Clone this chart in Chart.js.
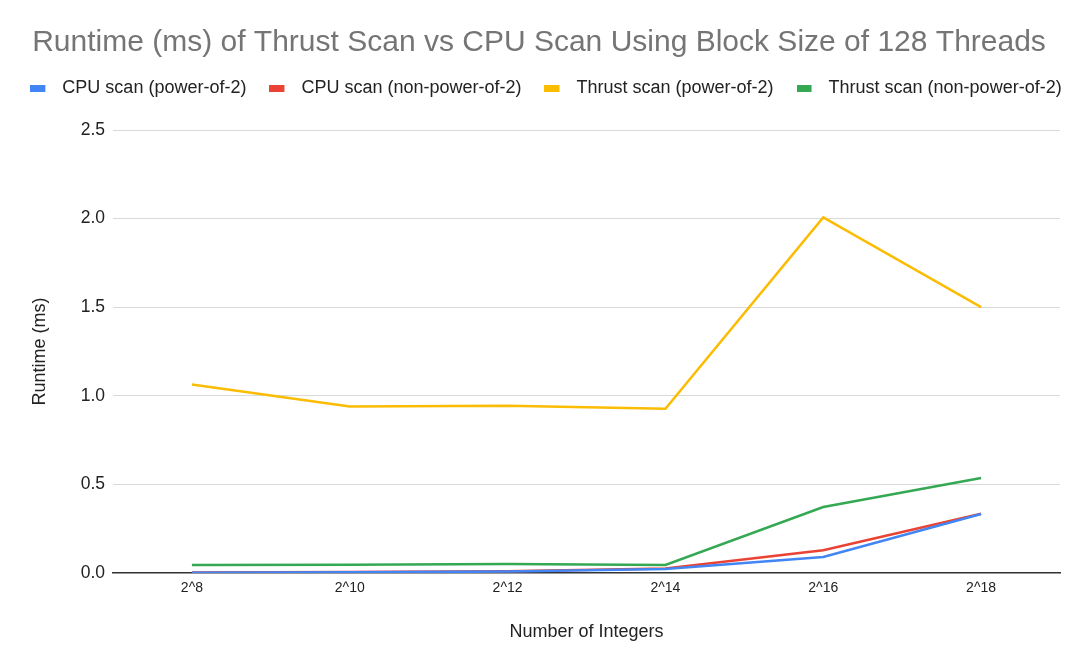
<!DOCTYPE html>
<html>
<head>
<meta charset="utf-8">
<script src="https://cdn.jsdelivr.net/npm/chart.js@4/dist/chart.umd.min.js"></script>
<style>
  html, body { margin: 0; padding: 0; background: #fff; }
  #wrap { width: 1081px; height: 663px; position: relative; }
</style>
</head>
<body>
<div id="wrap"><canvas id="c" width="1081" height="663"></canvas></div>
<script>
const categories = ["2^8", "2^10", "2^12", "2^14", "2^16", "2^18"];
const cpuPow2 = [0.002, 0.004, 0.008, 0.022, 0.090, 0.333];
const cpuNonPow2 = [0.003, 0.005, 0.010, 0.025, 0.128, 0.334];
const thrustPow2 = [1.064, 0.940, 0.944, 0.927, 2.007, 1.500];
const thrustNonPow2 = [0.045, 0.046, 0.051, 0.045, 0.372, 0.536];
const seriesNames = ["CPU scan (power-of-2)", "CPU scan (non-power-of-2)", "Thrust scan (power-of-2)", "Thrust scan (non-power-of-2)"];
const seriesColors = ['#4285F4', '#EA4335', '#FBBC04', '#34A853'];
const yTicks = [0, 0.5, 1.0, 1.5, 2.0, 2.5];

const FONT = "'Liberation Sans', Arial, sans-serif";

// legend swatch: 15x7 coloured box inside a 23px wide slot (leaves a wider gap before the text)
function swatch(color) {
  const c = document.createElement('canvas');
  c.width = 23; c.height = 7;
  const g = c.getContext('2d');
  g.fillStyle = color;
  g.fillRect(0, 0, 15, 7);
  return c;
}
const swatches = seriesColors.map(swatch);

const legendTweak = {
  id: 'legendTweak',
  beforeInit(chart) {
    const lg = chart.legend;
    if (lg) {
      const orig = lg.fit;
      lg.fit = function () {
        const mw = this.maxWidth;
        this.maxWidth = mw + 200;
        orig.call(this);
        this.maxWidth = mw;
        this.width = Math.min(this.width, mw);
        this.height += 23;
      };
    }
  },
  afterLayout(chart) {
    const lg = chart.legend;
    if (lg && lg.lineWidths && lg.lineWidths.length) {
      lg.right += 80;
      lg.lineWidths[0] += 80 - 14;
    }
  }
};

function ds(label, data, color) {
  return {
    label, data,
    borderColor: color, backgroundColor: color,
    borderWidth: 2.5, pointRadius: 0, pointHoverRadius: 0,
    tension: 0, fill: false
  };
}

new Chart(document.getElementById('c'), {
  type: 'line',
  data: {
    labels: categories,
    datasets: [
      ds(seriesNames[0], cpuPow2, seriesColors[0]),
      ds(seriesNames[1], cpuNonPow2, seriesColors[1]),
      ds(seriesNames[2], thrustPow2, seriesColors[2]),
      ds(seriesNames[3], thrustNonPow2, seriesColors[3])
    ]
  },
  plugins: [legendTweak],
  options: {
    responsive: false,
    animation: false,
    layout: { padding: { left: 18, right: 21, top: 0, bottom: 0 } },
    plugins: {
      tooltip: { enabled: false },
      title: {
        display: true,
        text: "Runtime (ms) of Thrust Scan vs CPU Scan Using Block Size of 128 Threads",
        color: '#757575',
        font: { family: FONT, size: 30, weight: 'normal' },
        padding: { top: 25, bottom: -5 }
      },
      legend: {
        display: true,
        position: 'top',
        labels: {
          color: '#222',
          font: { family: FONT, size: 18 },
          usePointStyle: true,
          pointStyleWidth: 23,
          boxHeight: 7,
          padding: 23,
          generateLabels(chart) {
            return Chart.defaults.plugins.legend.labels.generateLabels(chart)
              .map((it, i) => Object.assign({}, it, { pointStyle: swatches[i] }));
          }
        }
      }
    },
    scales: {
      x: {
        offset: true,
        grid: { display: false, drawTicks: false },
        border: { display: true, color: '#333', width: 1.5 },
        ticks: { color: '#222', font: { family: FONT, size: 14 }, padding: 7, maxRotation: 0 },
        title: {
          display: true, text: 'Number of Integers', color: '#222',
          font: { family: FONT, size: 18 },
          padding: { top: 0, bottom: 20.2 }
        },
        afterFit(scale) { scale.height = 90; }
      },
      y: {
        min: 0, max: 2.5,
        afterBuildTicks(scale) { scale.ticks = yTicks.map(v => ({ value: v })); },
        grid: {
          drawTicks: false,
          color: ctx => (ctx.tick && ctx.tick.value === 0) ? 'rgba(0,0,0,0)' : '#d9d9d9',
          lineWidth: 1
        },
        border: { display: false },
        ticks: {
          color: '#222', font: { family: FONT, size: 17.5 }, padding: 8,
          callback: v => Number(v).toFixed(1)
        },
        title: {
          display: true, text: 'Runtime (ms)', color: '#222',
          font: { family: FONT, size: 18 },
          padding: { top: 11.2, bottom: 0 }
        },
        afterFit(scale) { scale.width = 95; }
      }
    }
  }
});
</script>
</body>
</html>
